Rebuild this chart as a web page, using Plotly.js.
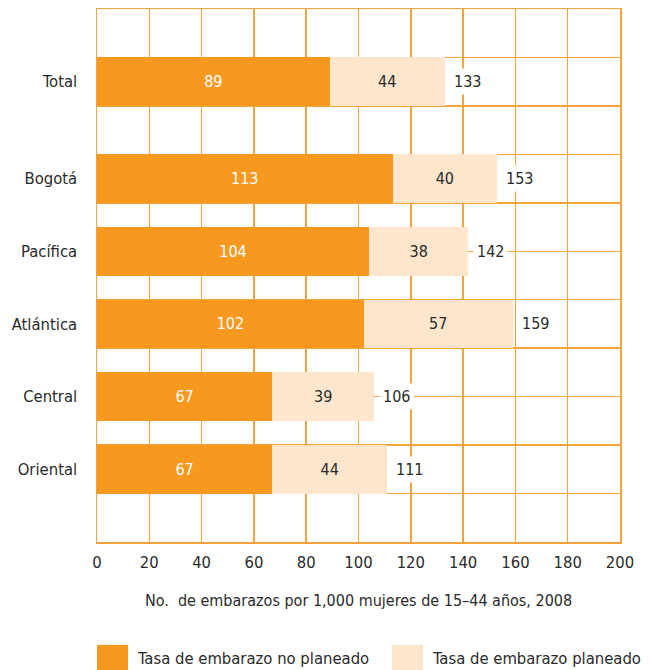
<!DOCTYPE html>
<html>
<head>
<meta charset="utf-8">
<script src="https://cdn.plot.ly/plotly-3.0.1.min.js"></script>
<style>
  html, body { margin: 0; padding: 0; background: #ffffff; }
  #chart { width: 649px; height: 670px; }
</style>
</head>
<body>
<div id="chart"></div>
<script>
// ---- data ----
const categories = ["Total", "Bogotá", "Pacífica", "Atlántica", "Central", "Oriental"];
const unplanned = [89, 113, 104, 102, 67, 67];
const planned = [44, 40, 38, 57, 39, 44];
const totals = [133, 153, 142, 159, 106, 111];
const seriesNames = ["Tasa de embarazo no planeado", "Tasa de embarazo planeado"];
const xTicks = [0, 20, 40, 60, 80, 100, 120, 140, 160, 180, 200];
const xTitle = "No.  de embarazos por 1,000 mujeres de 15–44 años, 2008";

// ---- style ----
const FONT = '"DejaVu Sans Condensed", "Liberation Sans Narrow", sans-serif';
const DARK = "#F7981F";
const LIGHT = "#FDE6CB";
const GRID = "#F7A23A";
const TXT = "#2a2a2a";

// row positions (grid units, top = 0): Total alone, then regions spaced 1.5 rows
const rowPos = categories.map((c, i) => i === 0 ? 1.5 : 3.5 + (i - 1) * 1.5);

const traces = [
  {
    type: "bar", orientation: "h", name: seriesNames[0],
    x: unplanned, y: rowPos, width: 1,
    marker: { color: DARK, line: { width: 0 } },
    text: unplanned.map(String), textposition: "inside", insidetextanchor: "middle",
    textangle: 0, constraintext: "none",
    textfont: { family: FONT, size: 16, color: "#ffffff" },
    hoverinfo: "skip", showlegend: false
  },
  {
    type: "bar", orientation: "h", name: seriesNames[1],
    x: planned, y: rowPos, width: 1,
    marker: { color: LIGHT, line: { width: 0 } },
    text: planned.map(String), textposition: "inside", insidetextanchor: "middle",
    textangle: 0, constraintext: "none",
    textfont: { family: FONT, size: 16, color: TXT },
    hoverinfo: "skip", showlegend: false
  },
  {
    type: "scatter", mode: "markers", x: [null], y: [null], yaxis: "y2",
    hoverinfo: "skip", showlegend: false
  }
];

const annotations = totals.map((t, i) => ({
  x: t, y: rowPos[i], xref: "x", yref: "y",
  text: String(t), showarrow: false, xanchor: "left", yanchor: "middle",
  xshift: 5, bgcolor: "#ffffff", borderpad: 3,
  font: { family: FONT, size: 16, color: TXT }
}));

// custom legend (large swatches)
const legendX = [0, 0.564];
const shapes = [];
seriesNames.forEach((nm, i) => {
  shapes.push({
    type: "rect", xref: "paper", yref: "paper",
    x0: legendX[i], x1: legendX[i] + 0.0593, y0: -0.243, y1: -0.193,
    fillcolor: i === 0 ? DARK : LIGHT, line: { width: 0 }
  });
  annotations.push({
    xref: "paper", yref: "paper", x: legendX[i] + 0.0725, y: -0.218,
    xanchor: "left", yanchor: "middle", showarrow: false, text: nm,
    font: { family: FONT, size: 16.5, color: TXT }
  });
});

const layout = {
  width: 649, height: 670,
  margin: { l: 97, r: 29, t: 9, b: 128 },
  paper_bgcolor: "#ffffff", plot_bgcolor: "#ffffff",
  barmode: "stack", bargap: 0,
  showlegend: false,
  font: { family: FONT, color: TXT, size: 16 },
  xaxis: {
    range: [0, 200], tickvals: xTicks, ticktext: xTicks.map(String),
    showgrid: true, gridcolor: GRID, gridwidth: 1.5,
    zeroline: false, showline: true, linecolor: GRID, linewidth: 1.5, mirror: true,
    ticks: "", ticklabelstandoff: 5, fixedrange: true,
    tickfont: { family: FONT, size: 16.5, color: TXT },
    title: { text: xTitle, standoff: 23, font: { family: FONT, size: 16, color: TXT } }
  },
  yaxis: {
    range: [11, 0], tickvals: rowPos, ticktext: categories,
    showgrid: false, zeroline: false, showline: true, linecolor: GRID, linewidth: 1.5, mirror: true,
    ticks: "", ticklabelstandoff: 15, fixedrange: true,
    tickfont: { family: FONT, size: 16.5, color: TXT }
  },
  yaxis2: {
    overlaying: "y", side: "right", range: [11, 0],
    tickmode: "linear", tick0: 0, dtick: 1,
    showgrid: true, gridcolor: GRID, gridwidth: 1.5,
    showticklabels: false, ticks: "", zeroline: false, showline: false, fixedrange: true
  },
  shapes: shapes,
  annotations: annotations
};

Plotly.newPlot("chart", traces, layout, { displayModeBar: false, staticPlot: true });
</script>
</body>
</html>
